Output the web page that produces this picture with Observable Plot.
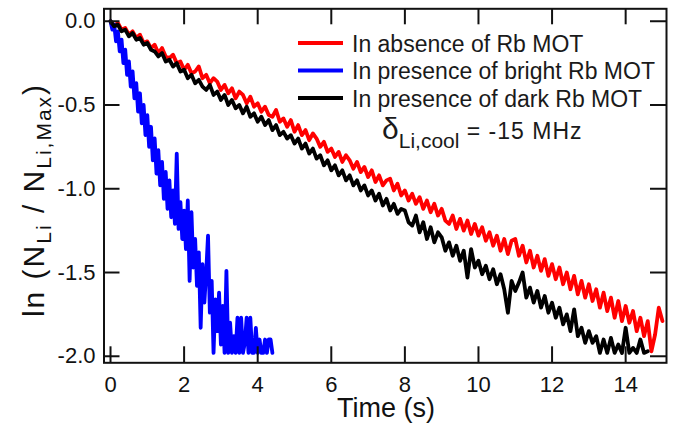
<!DOCTYPE html>
<html>
<head>
<meta charset="utf-8">
<script src="https://cdn.jsdelivr.net/npm/d3@7"></script>
<script src="https://cdn.jsdelivr.net/npm/@observablehq/plot@0.6"></script>
<style>
  body { margin: 0; background: #fff; }
  #chart { width: 677px; height: 423px; font-family: "Liberation Sans", Arial, sans-serif; }
</style>
</head>
<body>
<div id="chart"></div>
<script>
// ---- data ----
const seriesNames = ["In absence of Rb MOT", "In presence of bright Rb MOT", "In presence of dark Rb MOT"];
const seriesColors = ["#ff0000", "#0000ff", "#000000"];

// red: absence of Rb MOT, sampled every 0.1 s from t = 0
const redStep = 0.1;
const redValues = [
  0.00, -0.03, -0.01, -0.05, -0.04, -0.08, -0.06, -0.10, -0.08, -0.13,
  -0.12, -0.16, -0.14, -0.19, -0.16, -0.21, -0.22, -0.20, -0.25, -0.24,
  -0.29, -0.26, -0.31, -0.30, -0.27, -0.34, -0.32, -0.37, -0.34, -0.36,
  -0.41, -0.38, -0.43, -0.40, -0.46, -0.42, -0.44, -0.49, -0.45, -0.51,
  -0.49, -0.54, -0.51, -0.56, -0.57, -0.53, -0.60, -0.58, -0.63, -0.59,
  -0.66, -0.62, -0.68, -0.65, -0.71, -0.67, -0.70, -0.75, -0.72, -0.78,
  -0.76, -0.81, -0.78, -0.84, -0.80, -0.83, -0.88, -0.84, -0.90, -0.87,
  -0.93, -0.89, -0.96, -0.92, -0.98, -0.95, -0.94, -1.01, -0.97, -1.04,
  -1.01, -1.07, -1.03, -1.09, -1.05, -1.12, -1.07, -1.14, -1.09, -1.16,
  -1.12, -1.19, -1.21, -1.16, -1.24, -1.18, -1.25, -1.19, -1.27, -1.21,
  -1.28, -1.23, -1.31, -1.26, -1.34, -1.28, -1.37, -1.30, -1.39, -1.31,
  -1.30, -1.40, -1.34, -1.44, -1.37, -1.47, -1.40, -1.49, -1.42, -1.52,
  -1.45, -1.54, -1.47, -1.57, -1.50, -1.60, -1.52, -1.63, -1.55, -1.65,
  -1.57, -1.67, -1.60, -1.71, -1.62, -1.73, -1.65, -1.77, -1.67, -1.79,
  -1.70, -1.80, -1.73, -1.85, -1.77, -1.88, -1.79, -1.97, -1.87, -1.71,
  -1.79
];

// blue: presence of bright Rb MOT, sampled every 0.05 s from t = 0
const blueStep = 0.05;
const blueValues = [
  0.00, -0.05, -0.02, -0.12, -0.06, -0.18, -0.11, -0.25, -0.17, -0.32,
  -0.24, -0.39, -0.30, -0.46, -0.37, -0.54, -0.43, -0.61, -0.50, -0.68,
  -0.56, -0.75, -0.63, -0.83, -0.70, -0.91, -0.77, -0.98, -0.84, -1.06,
  -0.90, -1.12, -0.95, -1.17, -1.01, -1.21, -0.79, -1.24, -1.08, -1.30,
  -1.13, -1.36, -1.07, -1.55, -1.14, -1.47, -1.30, -1.58, -1.38, -1.83,
  -1.45, -1.68, -1.50, -1.28, -1.74, -1.55, -1.98, -1.66, -1.85, -1.62,
  -1.93, -1.70, -1.98, -1.49, -1.98, -1.80, -1.98, -1.88, -1.98, -1.77,
  -1.98, -1.77, -1.98, -1.92, -1.77, -1.98, -1.77, -1.98, -1.98, -1.83,
  -1.98, -1.90, -1.98, -1.98, -1.90, -1.98, -1.90, -1.90, -1.98
];

// black: presence of dark Rb MOT, sampled every 0.1 s from t = 0
const blackStep = 0.1;
const blackValues = [
  0.00, -0.03, -0.02, -0.06, -0.05, -0.09, -0.07, -0.11, -0.10, -0.14,
  -0.13, -0.17, -0.18, -0.21, -0.19, -0.24, -0.23, -0.27, -0.25, -0.30,
  -0.29, -0.34, -0.32, -0.37, -0.35, -0.39, -0.41, -0.38, -0.44, -0.42,
  -0.47, -0.44, -0.50, -0.47, -0.52, -0.50, -0.55, -0.51, -0.57, -0.55,
  -0.60, -0.57, -0.62, -0.59, -0.65, -0.62, -0.68, -0.66, -0.70, -0.68,
  -0.73, -0.70, -0.76, -0.73, -0.79, -0.76, -0.82, -0.80, -0.86, -0.83,
  -0.89, -0.86, -0.92, -0.89, -0.95, -0.92, -0.98, -0.95, -1.01, -0.98,
  -1.04, -1.01, -1.07, -1.03, -1.10, -1.06, -1.13, -1.09, -1.15, -1.12,
  -1.13, -1.20, -1.22, -1.16, -1.26, -1.20, -1.30, -1.23, -1.32, -1.26,
  -1.29, -1.37, -1.32, -1.40, -1.34, -1.43, -1.37, -1.53, -1.36, -1.47,
  -1.43, -1.51, -1.46, -1.54, -1.48, -1.57, -1.51, -1.60, -1.74, -1.55,
  -1.61, -1.56, -1.50, -1.65, -1.59, -1.68, -1.61, -1.71, -1.64, -1.74,
  -1.68, -1.77, -1.71, -1.81, -1.75, -1.85, -1.72, -1.88, -1.83, -1.92,
  -1.85, -1.92, -1.88, -1.98, -1.90, -1.98, -1.89, -1.98, -1.93, -1.98,
  -1.83, -1.98, -1.95, -1.98, -1.90, -1.98, -1.97
];

const xTicks = [0, 2, 4, 6, 8, 10, 12, 14];
const xTickLabels = ["0", "2", "4", "6", "8", "10", "12", "14"];
const yTicks = [0, -0.5, -1, -1.5, -2];
const yTickLabels = ["0.0", "-0.5", "-1.0", "-1.5", "-2.0"];
const xTitle = "Time (s)";
const annotation = { symbol: "δ", sub: "Li,cool", rest: " = -15 MHz" };

// ---- table for the library ----
const rows = [];
redValues.forEach((v, i) => rows.push({ series: seriesNames[0], t: +(i * redStep).toFixed(3), v }));
blueValues.forEach((v, i) => rows.push({ series: seriesNames[1], t: +(i * blueStep).toFixed(3), v }));
blackValues.forEach((v, i) => rows.push({ series: seriesNames[2], t: +(i * blackStep).toFixed(3), v }));

const W = 677, H = 423;
const mL = 103.5, mR = 11, mT = 8.3, mB = 60.7;
const innerW = W - mL - mR, innerH = H - mT - mB;
const tickLen = 16;
const font = '"Liberation Sans", Arial, sans-serif';

const chart = Plot.plot({
  width: W, height: H,
  marginLeft: mL, marginRight: mR, marginTop: mT, marginBottom: mB,
  style: { fontFamily: font, fontSize: "22px", color: "#111", background: "#fff", overflow: "visible" },
  x: { domain: [-0.177, 15.11], label: null },
  y: { domain: [-2.039, 0.0743], label: null },
  color: { domain: seriesNames, range: seriesColors },
  marks: [
    Plot.line(rows, { x: "t", y: "v", z: "series", stroke: "series", strokeWidth: 3.8, strokeLinejoin: "round" }),
    Plot.ruleY(yTicks, { stroke: "#111", strokeWidth: 2, insetRight: innerW - tickLen }),
    Plot.ruleY(yTicks, { stroke: "#111", strokeWidth: 2, insetLeft: innerW - tickLen }),
    Plot.ruleX(xTicks, { stroke: "#111", strokeWidth: 2, insetTop: innerH - tickLen }),
    Plot.ruleX(xTicks, { stroke: "#111", strokeWidth: 2, insetBottom: innerH - tickLen }),
    Plot.frame({ stroke: "#111", strokeWidth: 2 }),
    Plot.axisX(xTicks, { tickSize: 0, tickPadding: 14, fontSize: 22, label: null,
      tickFormat: d => xTickLabels[xTicks.indexOf(d)] }),
    Plot.axisY(yTicks, { tickSize: 0, tickPadding: 8.5, fontSize: 22, label: null,
      tickFormat: d => yTickLabels[yTicks.indexOf(d)] })
  ]
});

document.getElementById("chart").appendChild(chart);
const svg = d3.select(chart);

// legend
const leg = svg.append("g").attr("font-family", font).attr("fill", "#1a1a1a").attr("text-anchor", "start");
seriesNames.forEach((name, i) => {
  const y = 43 + i * 27.5;
  leg.append("line").attr("x1", 298).attr("x2", 343).attr("y1", y).attr("y2", y)
    .attr("stroke", seriesColors[i]).attr("stroke-width", 4);
  leg.append("text").attr("x", 352).attr("y", y + 8.5).attr("font-size", 23).text(name);
});

// annotation
const ann = svg.append("text").attr("x", 382).attr("y", 139).attr("font-family", font)
  .attr("text-anchor", "start").attr("font-size", 23).attr("fill", "#1a1a1a");
ann.append("tspan").attr("font-size", 30).text(annotation.symbol);
ann.append("tspan").attr("font-size", 21).attr("dy", 9).text(annotation.sub);
ann.append("tspan").attr("dy", -9).attr("letter-spacing", 1).text(annotation.rest);

// x title
svg.append("text").attr("x", 386).attr("y", 417).attr("text-anchor", "middle")
  .attr("font-family", font).attr("font-size", 27).attr("fill", "#111").text(xTitle);

// y title
const yt = svg.append("text").attr("transform", "translate(44,200) rotate(-90)")
  .attr("text-anchor", "middle").attr("font-family", font).attr("font-size", 30)
  .attr("letter-spacing", 2).attr("fill", "#111");
yt.append("tspan").text("ln (N");
yt.append("tspan").attr("font-size", 21).attr("dy", 7).text("Li");
yt.append("tspan").attr("dy", -7).text(" / N");
yt.append("tspan").attr("font-size", 21).attr("dy", 7).text("Li,Max");
yt.append("tspan").attr("dy", -7).text(")");
</script>
</body>
</html>
